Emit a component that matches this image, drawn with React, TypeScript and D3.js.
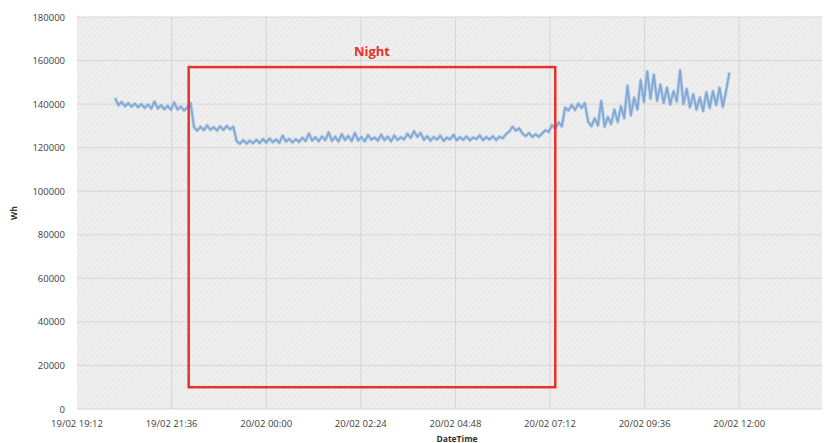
import React from "react";
import * as d3 from "d3";

// ---- data ----
const startTime = "2014-02-19T20:10:00";
const stepMinutes = 5;
const whValues: number[] = [
  // 20:10 - 20:55
  142800, 139500, 141000, 139000, 140500, 138800, 140200, 138600, 140000, 138300,
  // 21:00 - 21:55
  139800, 137900, 141200, 138000, 139500, 137600, 139200, 137400, 140800, 137500, 138900, 137000,
  // 22:00 - 22:55
  138600, 140500, 129500, 127800, 129600, 128000, 130200, 128200, 129400, 127900, 129800, 128100,
  // 23:00 - 23:55
  130000, 128400, 129600, 123000, 121800, 123500, 121900, 123200, 122000, 123600, 122100, 124000,
  // 00:00 - 00:55
  122300, 124200, 122500, 123800, 122200, 125500, 122800, 124000, 122400, 123900, 122600, 124600,
  // 01:00 - 01:55
  123000, 126500, 123200, 124800, 122900, 125200, 123400, 127000, 123100, 125000, 122800, 126200,
  // 02:00 - 02:55
  123500, 125400, 123000, 126800, 123300, 124900, 122900, 125800, 123600, 124700, 123200, 126000,
  // 03:00 - 03:55
  123400, 125100, 122900, 125600, 123500, 124800, 123800, 126400, 124500, 127600, 125000, 126800,
  // 04:00 - 04:55
  123600, 125300, 123200, 124900, 123700, 125500, 123100, 124600, 123800, 125900, 123400, 124800,
  // 05:00 - 05:55
  123600, 125200, 123300, 124700, 123900, 125600, 123400, 124900, 123700, 125300, 123500, 125100,
  // 06:00 - 06:55
  124300, 126200, 127400, 129600, 127800, 128900, 126500, 125300, 126800, 124900, 126200, 125000,
  // 07:00 - 07:55
  126500, 128000, 127200, 130400, 128800, 131600, 129800, 138400, 137000, 139600, 137300, 140200,
  // 08:00 - 08:55
  138200, 140500, 132000, 129800, 133500, 130200, 141500, 129600, 134000, 130800, 137500, 131800,
  // 09:00 - 09:55
  139000, 133500, 148500, 134800, 143000, 137500, 151000, 141000, 155000, 142500, 153500, 141500,
  // 10:00 - 10:55
  149000, 140500, 147500, 139800, 146000, 141200, 155500, 140000, 147000, 138500, 144500, 137500,
  // 11:00 - 11:45
  143000, 136800, 145500, 138200, 146000, 139500, 147500, 138800, 146000, 154500,
];

const xTickLabels = [
  "19/02 19:12", "19/02 21:36", "20/02 00:00", "20/02 02:24",
  "20/02 04:48", "20/02 07:12", "20/02 09:36", "20/02 12:00",
];
const yTicks = [0, 20000, 40000, 60000, 80000, 100000, 120000, 140000, 160000, 180000];
const axisStart = "2014-02-19T19:12:00";
const axisEnd = "2014-02-20T14:06:00";
const nightBox = { from: "2014-02-19T22:02:00", to: "2014-02-20T07:20:00", low: 10000, high: 157000 };

const W = 828;
const H = 443;
const M = { left: 77, right: 6, top: 17, bottom: 34 };

export default function App() {
  const t0 = new Date(startTime).getTime();
  const points = whValues.map((v, i) => ({ t: new Date(t0 + i * stepMinutes * 60000), v }));
  const x = d3
    .scaleTime()
    .domain([new Date(axisStart), new Date(axisEnd)])
    .range([M.left, W - M.right]);
  const y = d3.scaleLinear().domain([0, 180000]).range([H - M.bottom, M.top]);
  const tickTimes = xTickLabels.map((_, i) => new Date(new Date(axisStart).getTime() + i * 144 * 60000));
  const line = d3
    .line<{ t: Date; v: number }>()
    .x((d) => x(d.t))
    .y((d) => y(d.v));
  const font = "'Open Sans', 'Noto Sans', sans-serif";
  const bx0 = x(new Date(nightBox.from));
  const bx1 = x(new Date(nightBox.to));
  const by0 = y(nightBox.high);
  const by1 = y(nightBox.low);
  const d = line(points) || "";

  return (
    <svg width={W} height={H} style={{ position: "absolute", left: 0, top: 0, background: "#fff" }}>
      <defs>
        <pattern id="hatch" width="4" height="4" patternUnits="userSpaceOnUse" patternTransform="rotate(45)">
          <rect width="4" height="4" fill="#efefef" />
          <line x1="0" y1="0" x2="0" y2="4" stroke="#e4e4e4" strokeWidth="1.5" />
        </pattern>
        <clipPath id="plot">
          <rect x={M.left} y={M.top} width={W - M.left - M.right} height={H - M.top - M.bottom} />
        </clipPath>
      </defs>
      <rect x={M.left} y={M.top} width={W - M.left - M.right} height={H - M.top - M.bottom} fill="url(#hatch)" />
      {yTicks.map((v) => (
        <line key={"gy" + v} x1={M.left} x2={W - M.right} y1={y(v)} y2={y(v)} stroke="#d6d6d6" strokeWidth={1} />
      ))}
      {tickTimes.map((t, i) =>
        i === 0 ? null : (
          <line key={"gx" + i} x1={x(t)} x2={x(t)} y1={M.top} y2={H - M.bottom} stroke="#d6d6d6" strokeWidth={1} />
        )
      )}
      <g clipPath="url(#plot)">
        <path d={d} fill="none" stroke="#8fb3dc" strokeWidth={3.6} strokeLinejoin="round" opacity={0.45} />
        <path d={d} fill="none" stroke="#7aa3d4" strokeWidth={1.8} strokeLinejoin="round" opacity={0.9} />
      </g>
      <rect x={bx0} y={by0} width={bx1 - bx0} height={by1 - by0} fill="none" stroke="#e5322b" strokeWidth={2.5} />
      <text x={(bx0 + bx1) / 2} y={56} textAnchor="middle" fill="#e5322b" fontFamily={font} fontWeight="bold" fontSize={13}>
        Night
      </text>
      {yTicks.map((v) => (
        <text key={"ty" + v} x={65} y={y(v) + 3.5} textAnchor="end" fontFamily={font} fontSize={9.5} fill="#404040">
          {v}
        </text>
      ))}
      {tickTimes.map((t, i) => (
        <text key={"tx" + i} x={x(t)} y={427} textAnchor="middle" fontFamily={font} fontSize={9.5} fill="#404040">
          {xTickLabels[i]}
        </text>
      ))}
      <text x={457} y={442} textAnchor="middle" fontFamily={font} fontWeight="bold" fontSize={8.5} fill="#303030">
        DateTime
      </text>
      <text
        transform={`translate(17, ${(M.top + H - M.bottom) / 2}) rotate(-90)`}
        textAnchor="middle"
        fontFamily={font}
        fontWeight="bold"
        fontSize={8.5}
        fill="#303030"
      >
        Wh
      </text>
    </svg>
  );
}
